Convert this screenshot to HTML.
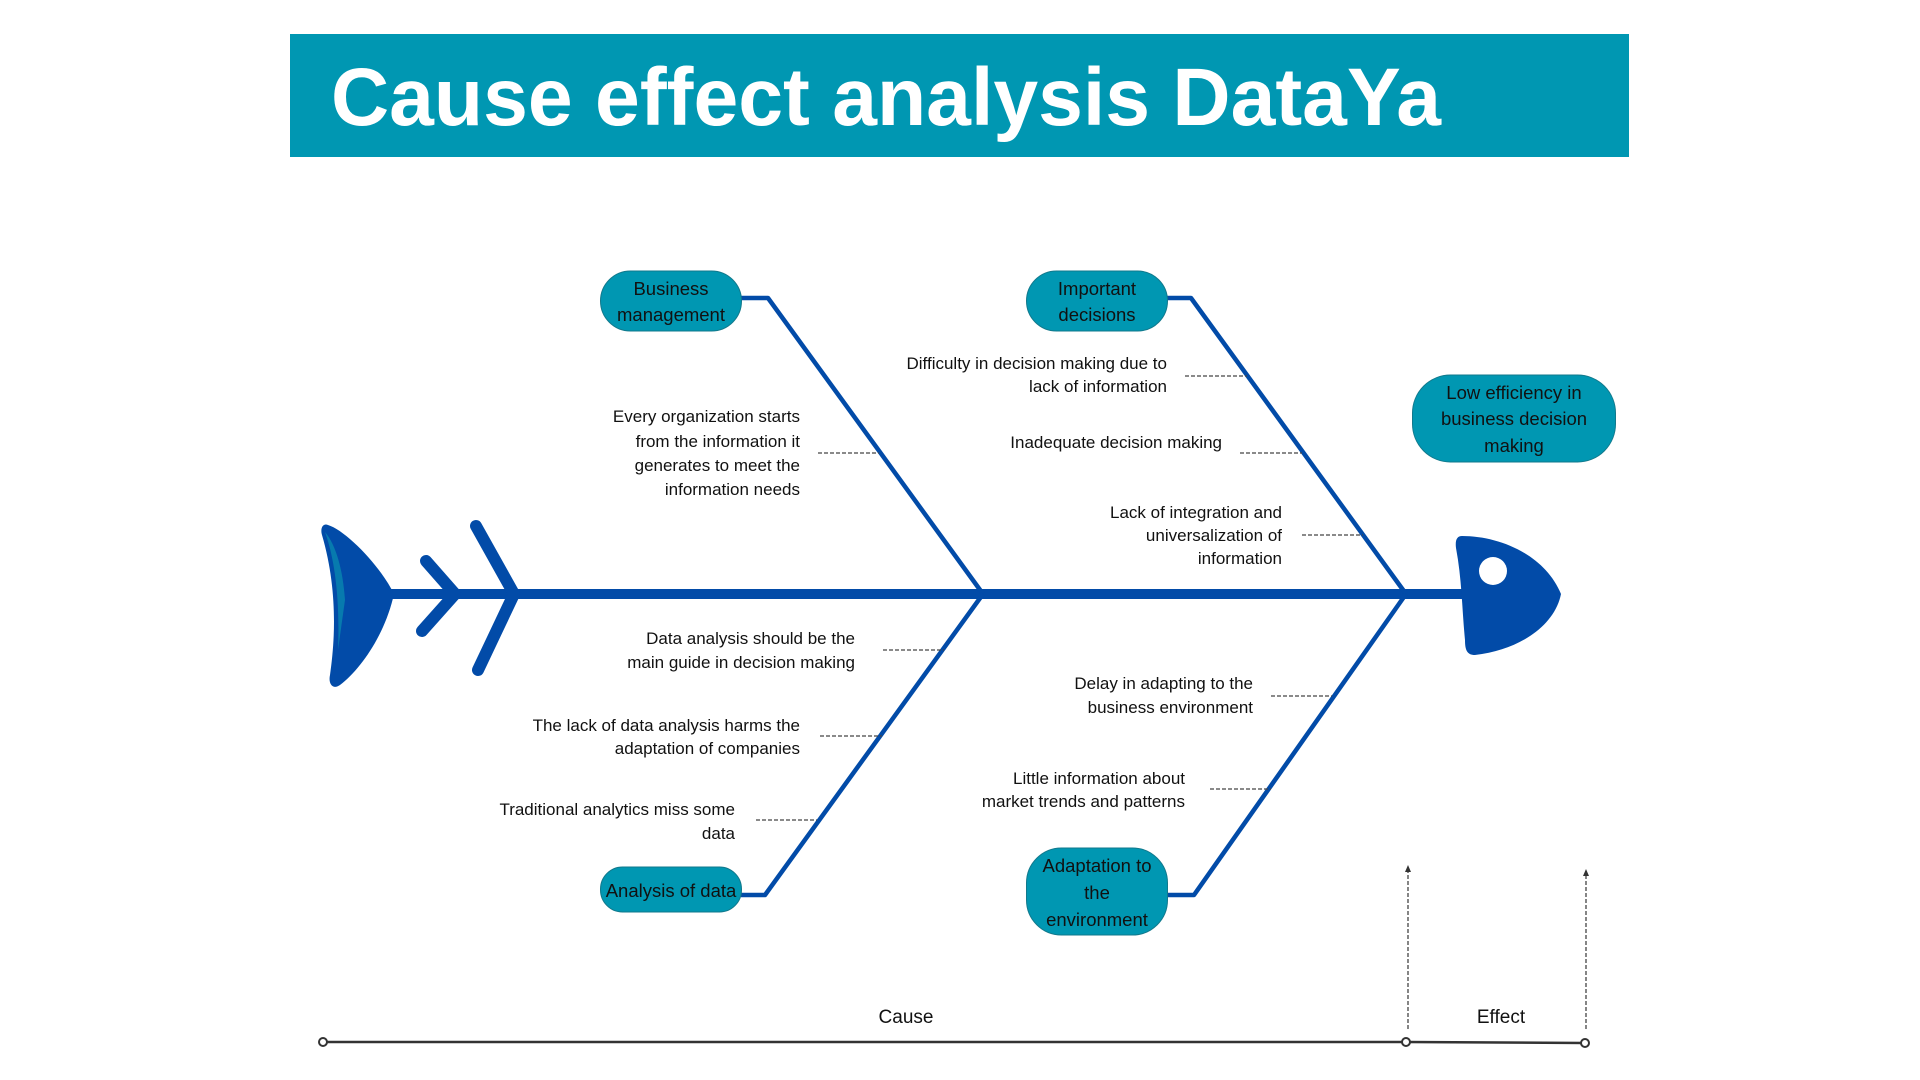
<!DOCTYPE html>
<html><head><meta charset="utf-8"><style>
html,body{margin:0;padding:0;background:#fff;width:1920px;height:1080px;overflow:hidden}
svg{display:block}
text{font-family:"Liberation Sans",sans-serif}
</style></head><body>
<svg width="1920" height="1080" viewBox="0 0 1920 1080" xmlns="http://www.w3.org/2000/svg">
<rect x="290" y="34" width="1339" height="123" fill="#0097b2"/>
<text x="331" y="125" font-size="82" font-weight="bold" fill="#fff" textLength="1110" lengthAdjust="spacingAndGlyphs">Cause effect analysis DataYa</text>

<g stroke="#024ba8" fill="none" stroke-linecap="round" stroke-linejoin="round">
<line x1="390" y1="594" x2="1465" y2="594" stroke-width="10"/>
<polyline points="426,561 455,594 422,631" stroke-width="12"/>
<polyline points="476,526 514,594 478,670" stroke-width="12"/>
<g stroke-width="4.5" stroke-linecap="butt">
<polyline points="741,298 768,298 983,594"/>
<polyline points="1167,298 1191,298 1406,594"/>
<polyline points="741,895 765,895 983,594"/>
<polyline points="1167,895 1194,895 1406,594"/>
</g>
</g>
<!-- tail -->
<path d="M328,525 C345,530 380,565 394,594 C385,635 360,670 340,685 C333,690 328,684 330,675 C335,640 338,590 322,535 C320,528 323,523 328,525 Z" fill="#024ba8"/>
<path d="M325,532 C335,560 340,600 338,650 L345,600 C343,570 336,545 325,532Z" fill="#0a8fb0" opacity="0.7"/>
<!-- head -->
<path d="M1462,536 C1500,536 1545,555 1561,594 C1555,625 1520,650 1475,655 C1467,655 1465,650 1465,640 C1462,610 1462,580 1456,548 C1455,540 1457,536 1462,536 Z" fill="#024ba8"/>
<circle cx="1493" cy="571" r="14" fill="#fff"/>

<g fill="#0097b2" stroke="#11798c" stroke-width="1">
<rect x="600.5" y="271" width="141" height="60" rx="30"/>
<rect x="1026.5" y="271" width="141" height="60" rx="30"/>
<rect x="600.5" y="867" width="141" height="45" rx="22"/>
<rect x="1026.5" y="848" width="141" height="87" rx="35"/>
<rect x="1412.5" y="375" width="203" height="87" rx="38"/>
</g>
<g font-size="18.5" fill="#111" text-anchor="middle">
<text x="671" y="295">Business</text><text x="671" y="321">management</text>
<text x="1097" y="295">Important</text><text x="1097" y="321">decisions</text>
<text x="671" y="897">Analysis of data</text>
<text x="1097" y="872">Adaptation to</text><text x="1097" y="899">the</text><text x="1097" y="926">environment</text>
<text x="1514" y="399">Low efficiency in</text><text x="1514" y="425">business decision</text><text x="1514" y="452">making</text>
</g>

<g font-size="17" fill="#111" text-anchor="end">
<text x="800" y="422">Every organization starts</text>
<text x="800" y="447">from the information it</text>
<text x="800" y="471">generates to meet the</text>
<text x="800" y="495">information needs</text>
<text x="1167" y="369">Difficulty in decision making due to</text>
<text x="1167" y="392">lack of information</text>
<text x="1222" y="448">Inadequate decision making</text>
<text x="1282" y="518">Lack of integration and</text>
<text x="1282" y="541">universalization of</text>
<text x="1282" y="564">information</text>
<text x="855" y="644">Data analysis should be the</text>
<text x="855" y="668">main guide in decision making</text>
<text x="800" y="731">The lack of data analysis harms the</text>
<text x="800" y="754">adaptation of companies</text>
<text x="735" y="815">Traditional analytics miss some</text>
<text x="735" y="839">data</text>
<text x="1253" y="689">Delay in adapting to the</text>
<text x="1253" y="713">business environment</text>
<text x="1185" y="784">Little information about</text>
<text x="1185" y="807">market trends and patterns</text>
</g>

<g stroke="#444" stroke-width="1.3" stroke-dasharray="4,2">
<line x1="818" y1="453" x2="879" y2="453"/>
<line x1="1185" y1="376" x2="1247" y2="376"/>
<line x1="1240" y1="453" x2="1302" y2="453"/>
<line x1="1302" y1="535" x2="1363" y2="535"/>
<line x1="883" y1="650" x2="944" y2="650"/>
<line x1="820" y1="736" x2="882" y2="736"/>
<line x1="756" y1="820" x2="817" y2="820"/>
<line x1="1271" y1="696" x2="1332" y2="696"/>
<line x1="1210" y1="789" x2="1271" y2="789"/>
<line x1="1408" y1="1029" x2="1408" y2="870"/>
<line x1="1586" y1="1029" x2="1586" y2="874"/>
</g>
<path d="M1405,872 L1408,865 L1411,872Z M1583,876 L1586,869 L1589,876Z" fill="#333"/>

<polyline points="323,1042 1406,1042 1585,1043" fill="none" stroke="#333" stroke-width="2.5"/>
<g fill="#fff" stroke="#333" stroke-width="2">
<circle cx="323" cy="1042" r="4"/><circle cx="1406" cy="1042" r="4"/><circle cx="1585" cy="1043" r="4"/>
</g>
<text x="906" y="1023" font-size="19" text-anchor="middle" fill="#111">Cause</text>
<text x="1501" y="1023" font-size="19" text-anchor="middle" fill="#111">Effect</text>
</svg>
</body></html>
